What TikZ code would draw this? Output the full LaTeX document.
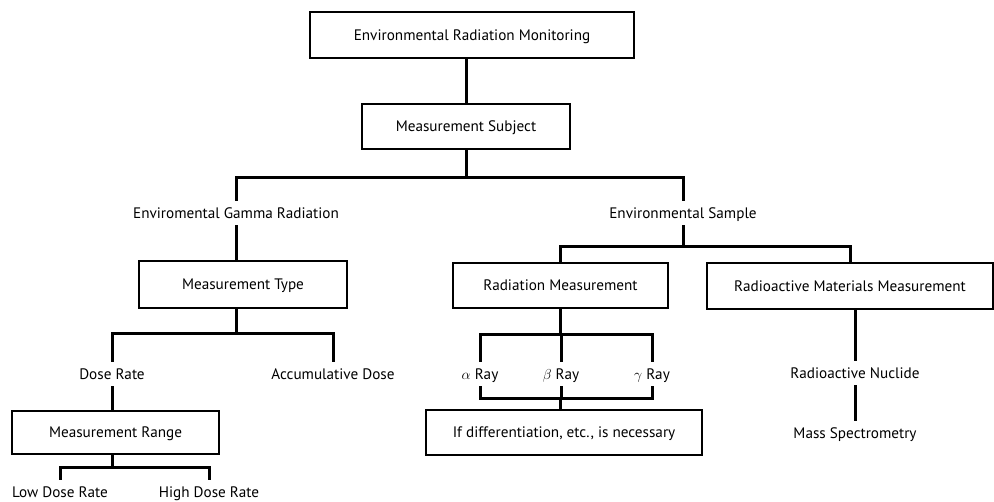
\documentclass[tikz,border=0pt]{standalone}
\usepackage{fontspec}
\setmainfont{PT Sans}
\usepackage{amsmath}
\usetikzlibrary{calc}
\tikzset{
    x=1pt, y=-1pt,
    baseNode/.style = {font=\fontsize{15.2}{18}\selectfont, text height=10.5pt, text depth=0pt},
    boxNode/.style = {baseNode, rectangle, draw=black, line width=2pt, fill=white, text centered, minimum height=45pt, inner sep=0pt},
    labelNode/.style = {baseNode, rectangle, inner xsep=2pt, inner ysep=7pt},
    treePath/.style = {draw, black, line width=3pt, line join=miter}
}
\begin{document}
\begin{tikzpicture}
            \useasboundingbox (0,0) rectangle (994,502);
            % boxes
            \node(top)[boxNode, minimum width=324pt, minimum height=46pt] at (472,35){Environmental Radiation Monitoring};
            \node(subj)[boxNode, minimum width=208pt] at (466,126.5){Measurement Subject};
            \node(type)[boxNode, minimum width=208pt, minimum height=47pt] at (243,284.5){Measurement Type};
            \node(range)[boxNode, minimum width=207pt, minimum height=43pt] at (115.5,432.5){Measurement Range};
            \node(radMeas)[boxNode, minimum width=215pt] at (560.5,285.5){Radiation Measurement};
            \node(radMat)[boxNode, minimum width=286pt, minimum height=46pt] at (850,286){Radioactive Materials Measurement};
            \node(diff)[boxNode, minimum width=276pt] at (564,432.5){If differentiation, etc., is necessary};
            % plain labels
            \node(gamma)[labelNode] at (236,213){Enviromental Gamma Radiation};
            \node(sample)[labelNode] at (683,213){Environmental Sample};
            \node(doseRate)[labelNode] at (112,374){Dose Rate};
            \node(accum)[labelNode] at (333,374){Accumulative Dose};
            \node(low)[labelNode] at (60,492){Low Dose Rate};
            \node(high)[labelNode] at (209,492){High Dose Rate};
            \node(alphaRay)[labelNode] at (480,374){$\alpha$ Ray};
            \node(betaRay)[labelNode] at (561,374){$\beta$ Ray};
            \node(gammaRay)[labelNode] at (652,374){$\gamma$ Ray};
            \node(nuclide)[labelNode] at (855,373){Radioactive Nuclide};
            \node(mass)[labelNode] at (855,433){Mass Spectrometry};
            % forks
            \coordinate(subjFork) at (466,178);
            \coordinate(sampleFork) at (683,247);
            \coordinate(typeFork) at (236,334);
            \coordinate(rangeFork) at (112,468);
            \coordinate(rayTopFork) at (560.5,335);
            \coordinate(rayBotFork) at (560.5,399);
            % connectors
            \path[treePath] (subj.north) -- (subj.north |- top.south);
            \path[treePath] (subj.south) -- (subjFork);
            \path[treePath] (gamma) |- (subjFork) -| (sample);
            \path[treePath] (gamma) -- (gamma |- type.north);
            \path[treePath] (type.south -| typeFork) -- (typeFork);
            \path[treePath] (doseRate) |- (typeFork) -| (accum);
            \path[treePath] (doseRate) -- (doseRate |- range.north);
            \path[treePath] (range.south -| rangeFork) -- (rangeFork);
            \path[treePath] (low) |- (rangeFork) -| (high);
            \path[treePath] (sample) -- (sampleFork);
            \path[treePath] (radMeas) |- (sampleFork) -| (radMat);
            \path[treePath] (radMeas.south) -- (rayTopFork);
            \path[treePath] (alphaRay) |- (rayTopFork) -| (gammaRay);
            \path[treePath] (betaRay) -- (betaRay |- rayTopFork);
            \path[treePath] (alphaRay) |- (rayBotFork) -| (gammaRay);
            \path[treePath] (betaRay) -- (betaRay |- rayBotFork);
            \path[treePath] (rayBotFork) -- (diff.north -| rayBotFork);
            \path[treePath] (radMat.south -| nuclide) -- (nuclide);
            \path[treePath] (nuclide) -- (mass);
        \end{tikzpicture}
\end{document}
